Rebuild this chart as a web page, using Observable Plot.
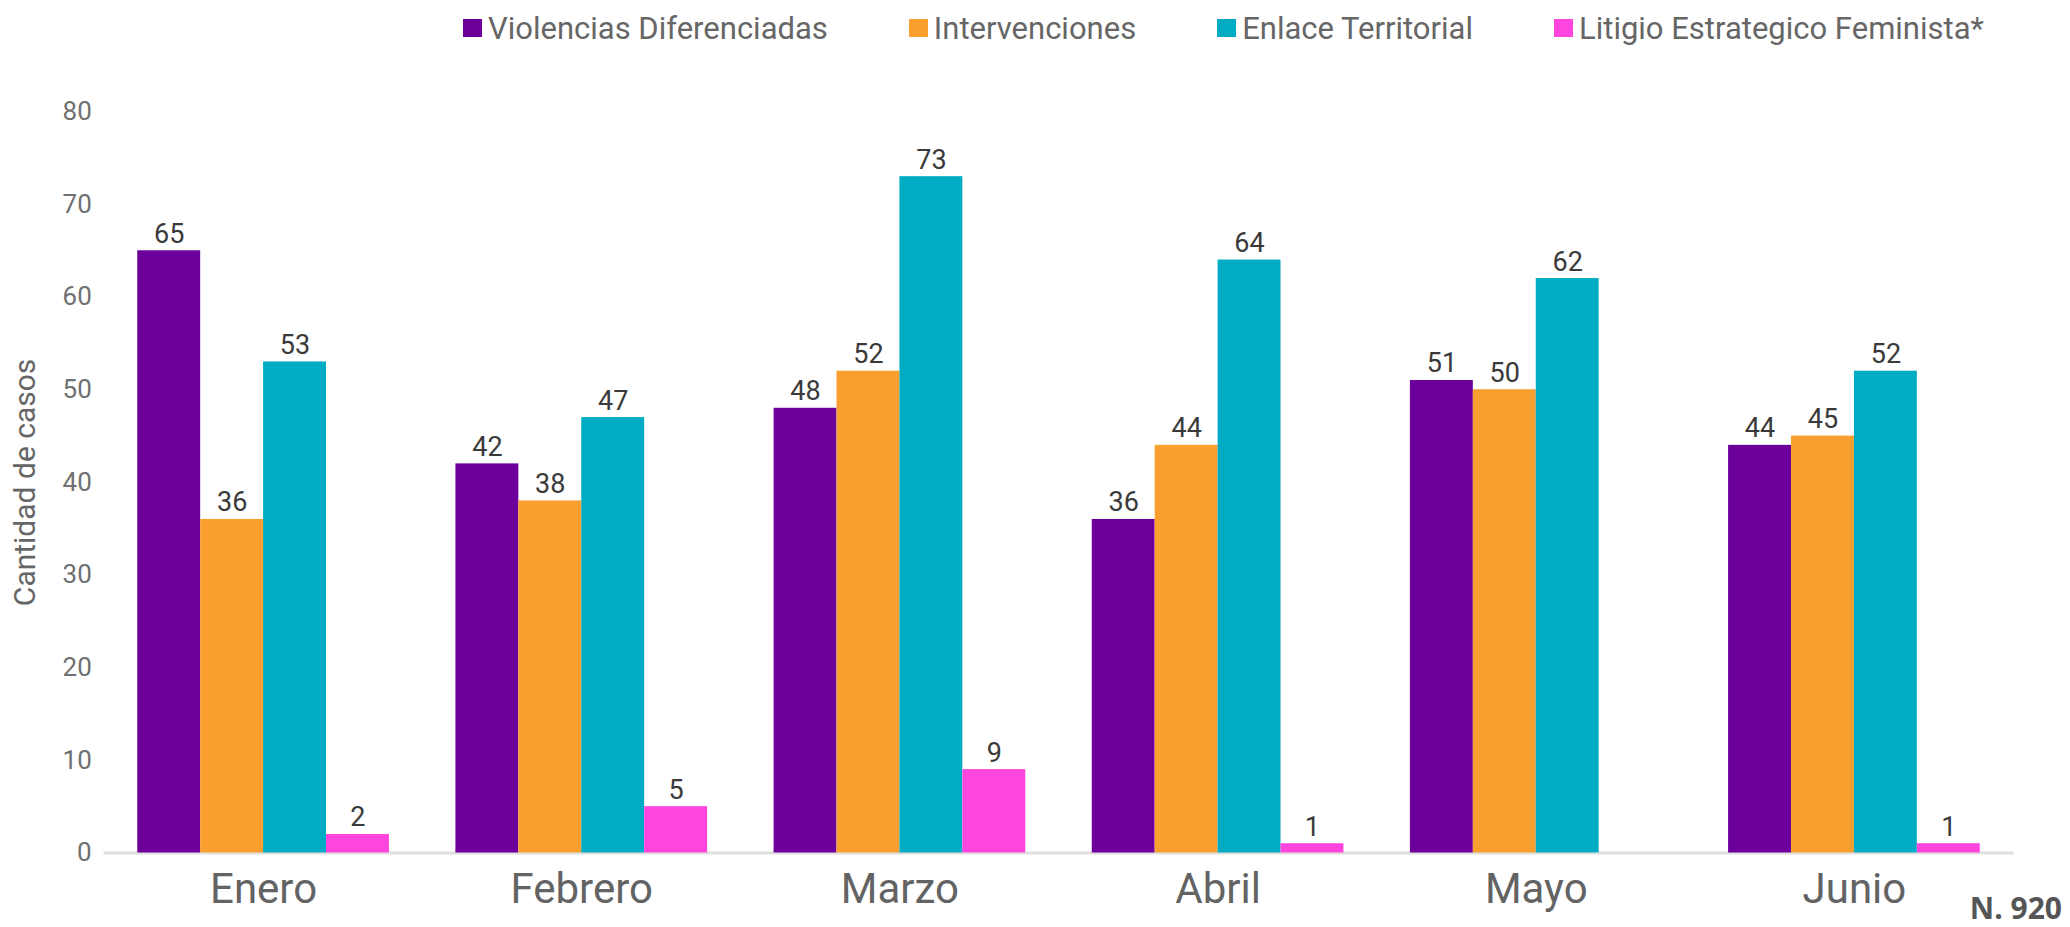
<!DOCTYPE html>
<html><head><meta charset="utf-8">
<script src="https://cdn.jsdelivr.net/npm/d3@7"></script>
<script src="https://cdn.jsdelivr.net/npm/@observablehq/plot@0.6"></script>
<style>
html,body{margin:0;padding:0;background:#fff;}
#wrap{position:relative;width:2070px;height:927px;overflow:hidden;font-family:Roboto,sans-serif;}
#legend{height:56px;display:flex;align-items:center;padding-left:463px;gap:81px;box-sizing:border-box;}
.item{display:flex;align-items:center;font-size:31px;color:#666;white-space:nowrap;}
.sw{width:19px;height:18px;margin-right:6px;flex:none;}
#note{position:absolute;right:8px;top:893px;font-family:"Open Sans",sans-serif;font-weight:bold;font-size:30px;color:#555;line-height:1;}
#chart svg{display:block;}
</style></head>
<body><div id="wrap"><div id="legend"></div><div id="chart"></div><div id="note"></div></div>
<script>
const months = ["Enero", "Febrero", "Marzo", "Abril", "Mayo", "Junio"];
const series = ["Violencias Diferenciadas", "Intervenciones", "Enlace Territorial", "Litigio Estrategico Feminista*"];
const colors = ["#6d009b", "#f89f2f", "#00acc3", "#ff45dd"];
const violencias = [65, 42, 48, 36, 51, 44];
const intervenciones = [36, 38, 52, 44, 50, 45];
const enlace = [53, 47, 73, 64, 62, 52];
const litigio = [2, 5, 9, 1, null, 1];
const yTicks = [0, 10, 20, 30, 40, 50, 60, 70, 80];
const yLabel = "Cantidad de casos";
const noteText = "N. 920";

const seriesValues = [violencias, intervenciones, enlace, litigio];
const data = [];
months.forEach((m, i) => {
  series.forEach((s, j) => {
    const v = seriesValues[j][i];
    if (v != null) data.push({month: m, series: s, value: v});
  });
});

// legend
const legend = document.getElementById("legend");
series.forEach((s, j) => {
  const it = document.createElement("div");
  it.className = "item";
  const sw = document.createElement("span");
  sw.className = "sw";
  sw.style.background = colors[j];
  const tx = document.createElement("span");
  tx.textContent = s;
  it.appendChild(sw); it.appendChild(tx);
  legend.appendChild(it);
});
document.getElementById("note").textContent = noteText;

const W = 2070, ML = 104, MR = 57;
const padInner = 0.209, padOuter = 0.1045;
const step = (W - ML - MR) / (months.length - padInner + 2 * padOuter);
const halfGap = step * padInner / 2;

const chart = Plot.plot({
  width: W,
  height: 871,
  marginTop: 55.3,
  marginBottom: 74.5,
  marginLeft: ML,
  marginRight: MR,
  style: {fontFamily: "Roboto", background: "white", overflow: "visible"},
  fx: {domain: months, paddingInner: padInner, paddingOuter: padOuter, round: false},
  x: {domain: series, padding: 0, axis: null, round: false},
  y: {domain: [0, 80]},
  color: {domain: series, range: colors},
  marks: [
    Plot.ruleY([0], {stroke: "#e0e0e0", strokeWidth: 3, insetLeft: -halfGap - 0.5, insetRight: -halfGap - 0.5}),
    Plot.barY(data, {fx: "month", x: "series", y: "value", fill: "series", inset: 0}),
    Plot.text(data, {fx: "month", x: "series", y: "value", text: d => String(d.value), dy: -8, lineAnchor: "bottom", fontSize: 27, fill: "#3a3a3a"}),
    Plot.axisY({ticks: yTicks, tickSize: 0, tickPadding: 46, fontSize: 26, fill: "#707070", label: null}),
    Plot.axisY({ticks: [], tickSize: 0, label: yLabel, labelAnchor: "center", labelArrow: "none", labelOffset: 124, fontSize: 30, fill: "#666"}),
    Plot.axisFx({anchor: "bottom", tickSize: 0, tickPadding: 20, fontSize: 42, fill: "#636363", label: null})
  ]
});
document.getElementById("chart").appendChild(chart);
</script>
</body></html>
